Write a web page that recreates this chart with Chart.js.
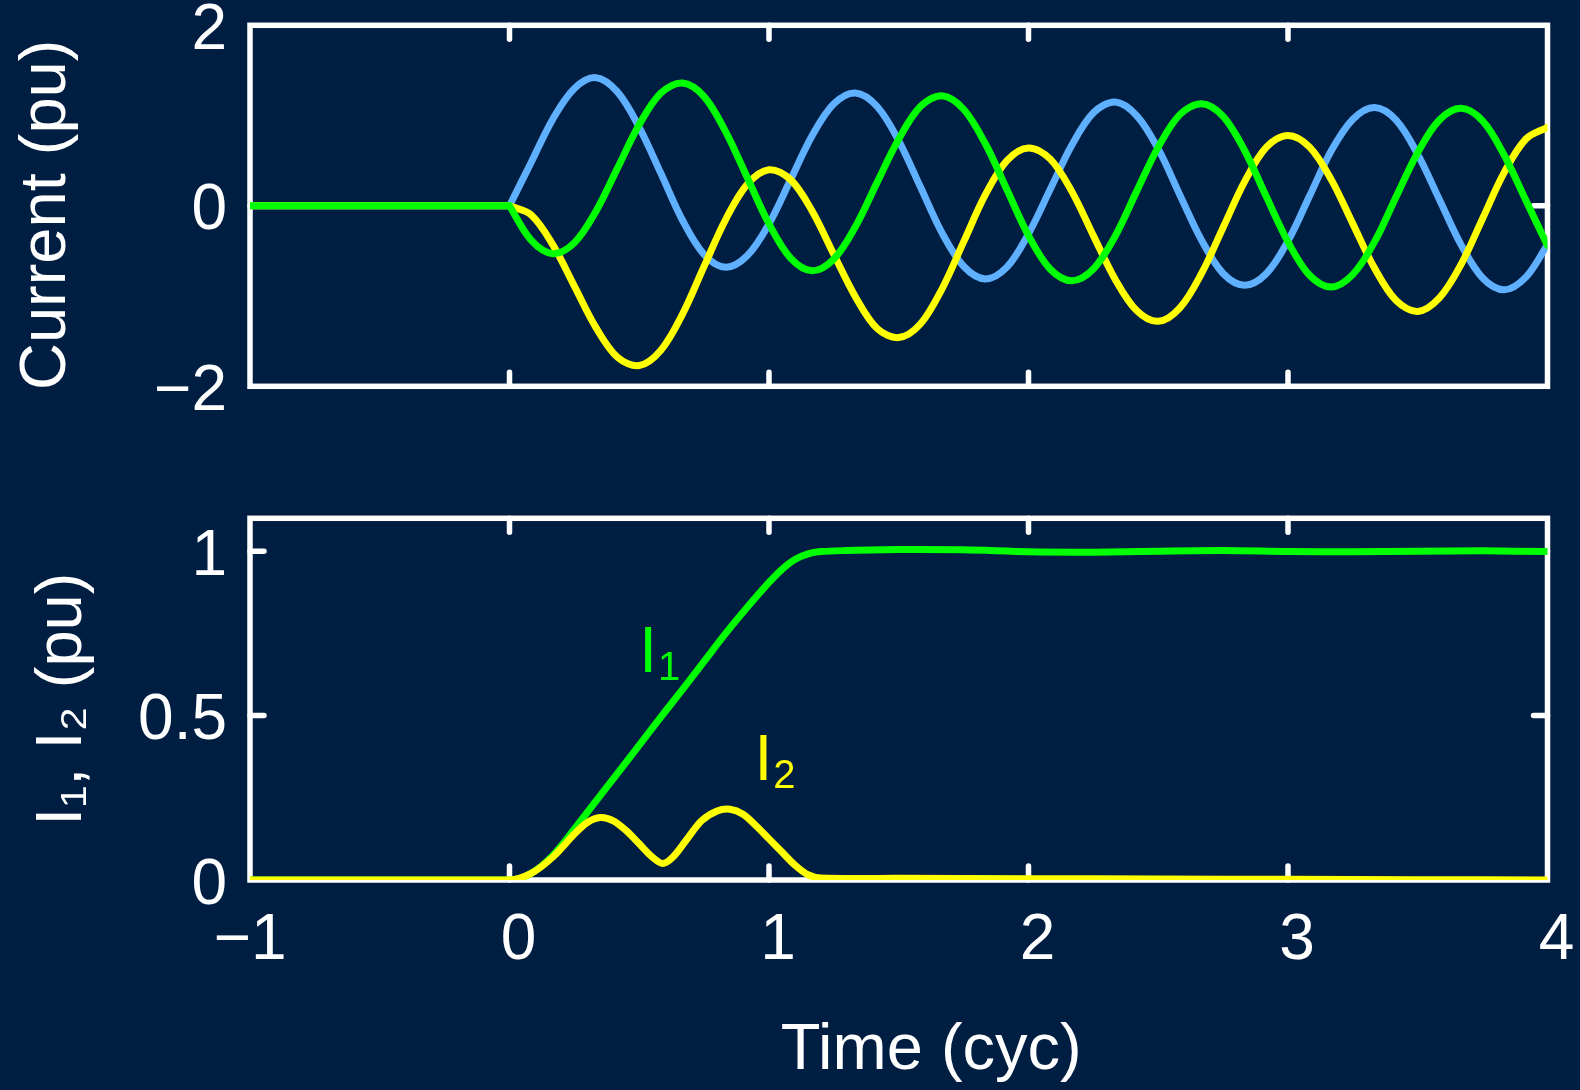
<!DOCTYPE html>
<html><head><meta charset="utf-8">
<script src="https://cdn.jsdelivr.net/npm/chart.js@4.4.1/dist/chart.umd.min.js"></script>
<style>
html,body{margin:0;padding:0;background:#001e42;width:1580px;height:1090px;overflow:hidden;}
canvas{position:absolute;left:0;top:0;}
</style></head><body>
<canvas id="topc" width="1580" height="1090"></canvas>
<canvas id="botc" width="1580" height="1090"></canvas>
<script>
// ---------- data ----------
const preT = [-1, 0];
const preV = [0, 0];
const tPost = [0, 0.0833, 0.1667, 0.25, 0.3333, 0.4167, 0.5, 0.5833, 0.6667, 0.75, 0.8333, 0.9167,
  1, 1.0833, 1.1667, 1.25, 1.3333, 1.4167, 1.5, 1.5833, 1.6667, 1.75, 1.8333, 1.9167,
  2, 2.0833, 2.1667, 2.25, 2.3333, 2.4167, 2.5, 2.5833, 2.6667, 2.75, 2.8333, 2.9167,
  3, 3.0833, 3.1667, 3.25, 3.3333, 3.4167, 3.5, 3.5833, 3.6667, 3.75, 3.8333, 3.9167, 4];
const blueV = [0.00, 0.48, 0.96, 1.30, 1.42, 1.26, 0.87, 0.36, -0.16, -0.54, -0.68, -0.55,
  -0.20, 0.29, 0.78, 1.13, 1.25, 1.10, 0.72, 0.21, -0.30, -0.67, -0.81, -0.68,
  -0.31, 0.18, 0.67, 1.03, 1.15, 1.00, 0.63, 0.12, -0.38, -0.75, -0.88, -0.75,
  -0.39, 0.11, 0.61, 0.96, 1.09, 0.95, 0.57, 0.07, -0.43, -0.80, -0.93, -0.79, -0.43];
const greenV = [0.00, -0.38, -0.53, -0.41, -0.06, 0.42, 0.90, 1.25, 1.36, 1.21, 0.82, 0.31,
  -0.20, -0.58, -0.72, -0.59, -0.23, 0.26, 0.74, 1.10, 1.22, 1.07, 0.69, 0.18,
  -0.33, -0.70, -0.83, -0.70, -0.34, 0.16, 0.65, 1.01, 1.13, 0.99, 0.61, 0.10,
  -0.40, -0.77, -0.90, -0.76, -0.40, 0.10, 0.59, 0.95, 1.08, 0.94, 0.56, 0.06, -0.44];
const yellowV = [0.00, -0.10, -0.43, -0.89, -1.35, -1.68, -1.77, -1.60, -1.20, -0.67, -0.15, 0.24,
  0.40, 0.29, -0.06, -0.54, -1.01, -1.36, -1.46, -1.31, -0.92, -0.40, 0.12, 0.50,
  0.64, 0.52, 0.16, -0.33, -0.81, -1.16, -1.28, -1.13, -0.75, -0.24, 0.27, 0.65,
  0.78, 0.65, 0.29, -0.20, -0.69, -1.05, -1.17, -1.02, -0.65, -0.14, 0.37, 0.74, 0.87];

const tI1 = [-1, 0, 0.083, 0.167, 0.25, 0.333, 0.417, 0.5, 0.583, 0.667, 0.75, 0.833, 0.917, 1.0,
  1.05, 1.1, 1.15, 1.2, 1.3, 1.5, 1.75, 2.0, 2.25, 2.5, 2.75, 3.0, 3.25, 3.5, 3.75, 4.0];
const i1V = [0, 0, 0.02, 0.075, 0.155, 0.24, 0.325, 0.41, 0.495, 0.58, 0.665, 0.75, 0.83, 0.905,
  0.945, 0.975, 0.992, 0.999, 1.002, 1.005, 1.004, 0.998, 0.997, 1.0, 1.002, 0.999, 0.998, 1.0, 1.001, 0.999];
const tI2 = [-1, 0, 0.083, 0.167, 0.25, 0.3, 0.35, 0.4, 0.45, 0.5, 0.55, 0.59, 0.63, 0.68, 0.74,
  0.8, 0.85, 0.9, 0.95, 1.0, 1.05, 1.1, 1.15, 1.2, 1.5, 2.0, 2.5, 3.0, 3.5, 4.0];
const i2V = [0, 0, 0.02, 0.07, 0.14, 0.175, 0.19, 0.18, 0.15, 0.11, 0.07, 0.05, 0.07, 0.12, 0.18,
  0.21, 0.215, 0.20, 0.165, 0.125, 0.085, 0.045, 0.016, 0.006, 0.005, 0.004, 0.003, 0.002, 0.001, 0.0];

const xTicks = [-1, 0, 1, 2, 3, 4];
const xTickLabels = ['\u22121 ', '0', '1', '2', '3', '4'];
const topYTicks = [-2, 0, 2];
const topYTickLabels = ['\u22122', '0', '2'];
const botYTicks = [0, 0.5, 1];
const botYTickLabels = ['0', '0.5', '1'];

const annotations = [
  {main: 'I', sub: '1', t: 0.50, v: 0.634, color: '#00ff00'},
  {main: 'I', sub: '2', t: 0.944, v: 0.305, color: '#ffff00'}
];

// ---------- style ----------
const FONT = "'Liberation Sans', Arial, Helvetica, sans-serif";
const FS = 64;
const TFS = 65;
const WHITE = '#ffffff';
const C_BLUE = '#5fb0ff', C_GREEN = '#00ff00', C_YELLOW = '#ffff00';
const LW = 7;

function phaseSeries(vals) {
  const pts = preT.map((t, i) => ({x: t, y: preV[i]}));
  pts.push({x: 0, y: null});
  tPost.forEach((t, i) => pts.push({x: t, y: vals[i]}));
  return pts;
}
function series(ts, vs) { return ts.map((t, i) => ({x: t, y: vs[i]})); }

const boxPlugin = {
  id: 'box',
  beforeDatasetsDraw(chart) {
    const {ctx, chartArea: a, scales} = chart;
    const xs = scales.x, ys = scales.y;
    ctx.save();
    ctx.strokeStyle = WHITE;
    ctx.lineWidth = 5.5;
    ctx.lineCap = 'round';
    const L = 14;
    ctx.beginPath();
    xs.ticks.forEach(tk => {
      const p = xs.getPixelForValue(tk.value);
      if (p > a.left + 3 && p < a.right - 3) {
        ctx.moveTo(p, a.bottom); ctx.lineTo(p, a.bottom - L);
        ctx.moveTo(p, a.top); ctx.lineTo(p, a.top + L);
      }
    });
    ys.ticks.forEach(tk => {
      const p = ys.getPixelForValue(tk.value);
      if (p > a.top + 3 && p < a.bottom - 3) {
        ctx.moveTo(a.left, p); ctx.lineTo(a.left + L, p);
        ctx.moveTo(a.right, p); ctx.lineTo(a.right - L, p);
      }
    });
    ctx.stroke();
    ctx.lineCap = 'butt';
    ctx.lineJoin = 'miter';
    ctx.strokeRect(a.left, a.top, a.right - a.left, a.bottom - a.top);
    ctx.restore();
  }
};

const annPlugin = {
  id: 'ann',
  afterDatasetsDraw(chart) {
    const {ctx, scales} = chart;
    ctx.save();
    ctx.textBaseline = 'alphabetic';
    ctx.textAlign = 'left';
    annotations.forEach(an => {
      const px = scales.x.getPixelForValue(an.t);
      const py = scales.y.getPixelForValue(an.v);
      ctx.fillStyle = an.color;
      ctx.font = FS + 'px ' + FONT;
      ctx.fillText(an.main, px, py);
      const w = ctx.measureText(an.main).width;
      ctx.font = '40px ' + FONT;
      ctx.fillText(an.sub, px + w + 1, py + 8);
    });
    ctx.restore();
  }
};

function lineDs(data, color, tension) {
  return {data, borderColor: color, backgroundColor: color, borderWidth: LW,
    pointRadius: 0, pointHoverRadius: 0, fill: false, tension: tension,
    borderCapStyle: 'round', borderJoinStyle: 'round', spanGaps: false};
}

const tickFont = {family: FONT, size: FS, lineHeight: 1.2};
const titleFont = {family: FONT, size: TFS, lineHeight: 1.2};

function xScale(showLabels, height, titleText) {
  return {
    type: 'linear', min: -1, max: 4, position: 'bottom',
    grid: {display: false, drawTicks: false},
    border: {display: false},
    afterBuildTicks: s => { s.ticks = xTicks.map(v => ({value: v})); },
    afterFit: s => { s.height = height; s.paddingLeft = 0; s.paddingRight = 0; },
    ticks: {display: showLabels, autoSkip: false, maxRotation: 0, minRotation: 0,
      padding: 23, labelOffset: 9, color: WHITE, font: tickFont,
      callback: v => xTickLabels[xTicks.indexOf(v)]},
    title: {display: !!titleText, text: titleText || '', color: WHITE, font: titleFont,
      padding: {top: 0, bottom: 0}}
  };
}
function yScale(min, max, ticks, labels, titleText, titlePad) {
  return {
    type: 'linear', min, max, position: 'left',
    grid: {display: false, drawTicks: false},
    border: {display: false},
    afterBuildTicks: s => { s.ticks = ticks.map(v => ({value: v})); },
    afterFit: s => { s.width = 250; s.paddingTop = 0; s.paddingBottom = 0; },
    ticks: {autoSkip: false, padding: 23, labelOffset: 6, color: WHITE, font: tickFont,
      callback: v => labels[ticks.indexOf(v)]},
    title: {display: true, text: titleText, color: WHITE, font: titleFont,
      padding: {top: titlePad, bottom: 0}}
  };
}

const common = {
  responsive: false, animation: false, devicePixelRatio: 1, events: [],
  plugins: {legend: {display: false}, tooltip: {enabled: false}}
};

new Chart(document.getElementById('topc'), {
  type: 'line',
  data: {datasets: [
    lineDs(phaseSeries(greenV), C_GREEN, 0.34),
    lineDs(phaseSeries(yellowV), C_YELLOW, 0.34),
    lineDs(phaseSeries(blueV), C_BLUE, 0.34)
  ]},
  options: Object.assign({}, common, {
    layout: {autoPadding: false, padding: {left: 0, right: 32.5, top: 25.3, bottom: 703.7}},
    scales: {
      x: xScale(false, 0, null),
      y: yScale(-2, 2, topYTicks, topYTickLabels, 'Current (pu) ', 8)
    }
  }),
  plugins: [boxPlugin]
});

new Chart(document.getElementById('botc'), {
  type: 'line',
  data: {datasets: [
    lineDs(series(tI2, i2V), C_YELLOW, 0.3),
    lineDs(series(tI1, i1V), C_GREEN, 0.3)
  ]},
  options: Object.assign({}, common, {
    layout: {autoPadding: false, padding: {left: 0, right: 32.5, top: 518.3, bottom: 0}},
    scales: {
      x: xScale(true, 210, '\u2002\u2002Time (cyc)'),
      y: yScale(0, 1.1, botYTicks, botYTickLabels, 'I\u2081, I\u2082 (pu)', 24)
    }
  }),
  plugins: [boxPlugin, annPlugin]
});
</script></body></html>
